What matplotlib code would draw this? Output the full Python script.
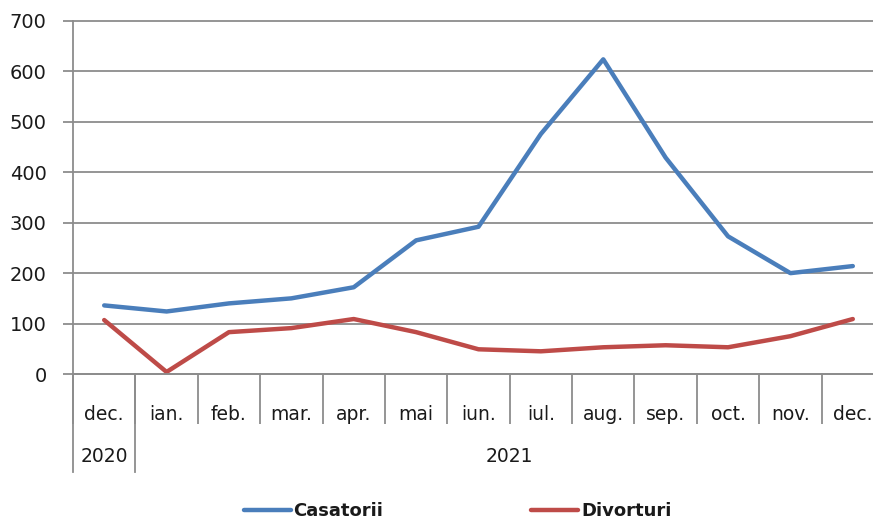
import numpy as np
import matplotlib.pyplot as plt
from matplotlib.transforms import blended_transform_factory

# data
months = ["dec.", "ian.", "feb.", "mar.", "apr.", "mai", "iun.", "iul.",
          "aug.", "sep.", "oct.", "nov.", "dec."]
years = ["2020", "2021"]
year_span = [1, 12]  # number of months under each year
casatorii = [136, 124, 140, 150, 172, 265, 292, 476, 624, 429, 273, 200, 214]
divorturi = [107, 4, 83, 91, 109, 83, 49, 45, 53, 57, 53, 75, 109]

grid_col = "#8c8c8c"
text_col = "#1a1a1a"

plt.rcParams["font.family"] = "DejaVu Sans"

fig = plt.figure(figsize=(8.73, 5.22), dpi=100)
# axes runs slightly past the right edge, like the original crop
ax = fig.add_axes([73 / 873, 1 - 374 / 522, 811 / 873, 353 / 522])

x = np.arange(len(months))
ax.plot(x, casatorii, color="#4a7ebb", lw=3.2, label="Casatorii", solid_capstyle="round")
ax.plot(x, divorturi, color="#be4b48", lw=3.2, label="Divorturi", solid_capstyle="round")

ax.set_xlim(-0.5, len(months) - 0.5)
ax.set_ylim(0, 700)
ax.set_yticks(np.arange(0, 701, 100))
ax.yaxis.grid(True, color=grid_col, lw=1.3)
ax.set_axisbelow(True)
for gl in ax.get_ygridlines():
    gl.set_clip_on(False)

for s in ["top", "right"]:
    ax.spines[s].set_visible(False)
ax.spines["left"].set_color(grid_col)
ax.spines["bottom"].set_color(grid_col)
ax.spines["left"].set_linewidth(1.3)
ax.spines["bottom"].set_linewidth(1.3)

ax.tick_params(axis="y", length=7, width=1.3, color=grid_col, labelsize=14,
               labelcolor=text_col, pad=12)

# month labels in the middle of each category, separators between them
ax.set_xticks(x)
ax.set_xticklabels(months)
ax.tick_params(axis="x", which="major", length=0, labelsize=13.5,
               labelcolor=text_col, pad=22)
ax.set_xticks(np.arange(-0.5, len(months), 1), minor=True)
ax.tick_params(axis="x", which="minor", length=36, width=1.3, color=grid_col)

# second level: years
trans = blended_transform_factory(ax.transData, ax.transAxes)
start = -0.5
for yr, n in zip(years, year_span):
    ax.plot([start, start], [0, -0.278], transform=trans, color=grid_col,
            lw=1.3, clip_on=False)
    ax.text(start + n / 2, -0.234, yr, transform=trans, ha="center",
            va="center", fontsize=13.5, color=text_col)
    start += n

leg = fig.legend(loc="center", bbox_to_anchor=(0.524, 0.021), ncol=2,
                 frameon=False, handlelength=2.6, handletextpad=0.15,
                 columnspacing=8.2, prop={"size": 13, "weight": "bold"})
for t in leg.get_texts():
    t.set_color(text_col)

fig.savefig("out.png", dpi=100)
